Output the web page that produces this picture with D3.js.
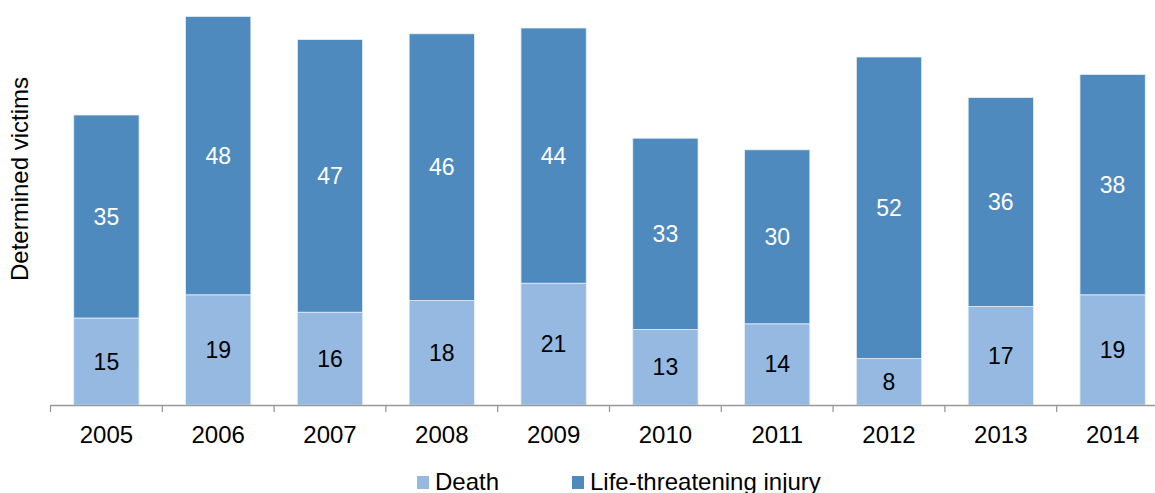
<!DOCTYPE html>
<html lang="en">
<head>
<meta charset="UTF-8">
<title>Determined victims</title>
<style>
  body { margin: 0; background: #fff; }
  svg { display: block; font-family: "Liberation Sans", Arial, sans-serif; }
</style>
</head>
<body>
<div id="chart"></div>
<script src="https://cdn.jsdelivr.net/npm/d3@7/dist/d3.min.js"></script>
<script>
"use strict";

var years = ["2005", "2006", "2007", "2008", "2009", "2010", "2011", "2012", "2013", "2014"];
var deaths = [15, 19, 16, 18, 21, 13, 14, 8, 17, 19];
var injuries = [35, 48, 47, 46, 44, 33, 30, 52, 36, 38];
var seriesNames = ["Death", "Life-threatening injury"];
var seriesColors = ["#95b9e0", "#4f8abe"];
var labelColors = ["#000", "#fff"];

var width = 1155, height = 493;
var baseY = 405;

var svg = d3.select("#chart").append("svg")
    .attr("width", width)
    .attr("height", height);

var x = d3.scaleBand()
    .domain(years)
    .range([50.5, 1168.5])
    .paddingInner(0.416)
    .paddingOuter(0.208);

var y = d3.scaleLinear()
    .domain([0, 70])
    .range([baseY, -1]);

var rows = years.map(function (yr, i) {
    return { year: yr, death: deaths[i], injury: injuries[i] };
});
var stacked = d3.stack().keys(["death", "injury"])(rows);

var layers = svg.selectAll("g.layer")
    .data(stacked)
    .enter().append("g")
    .attr("class", "layer")
    .attr("fill", function (d, i) { return seriesColors[i]; });

layers.selectAll("rect")
    .data(function (d) { return d; })
    .enter().append("rect")
    .attr("x", function (d) { return x(d.data.year); })
    .attr("y", function (d) { return y(d[1]); })
    .attr("width", x.bandwidth())
    .attr("height", function (d) { return y(d[0]) - y(d[1]); })
    .attr("stroke", "#e6eef8")
    .attr("stroke-width", 0.8);

layers.selectAll("text")
    .data(function (d, i) { return d.map(function (p) { return { p: p, i: i }; }); })
    .enter().append("text")
    .attr("x", function (d) { return x(d.p.data.year) + x.bandwidth() / 2; })
    .attr("y", function (d) { return (y(d.p[0]) + y(d.p[1])) / 2; })
    .attr("dy", "0.35em")
    .attr("text-anchor", "middle")
    .attr("font-size", 23)
    .attr("fill", function (d) { return labelColors[d.i]; })
    .text(function (d) { return d.p[1] - d.p[0]; });

// x axis: ticks sit on band boundaries
var axisG = svg.append("g").attr("class", "x-axis");
axisG.append("line")
    .attr("x1", 50.5).attr("x2", width)
    .attr("y1", baseY + 0.5).attr("y2", baseY + 0.5)
    .attr("stroke", "#999").attr("stroke-width", 1.3);

var step = x.step();
var bounds = d3.range(years.length + 1).map(function (i) { return 50.5 + i * step; });
axisG.selectAll("line.tick")
    .data(bounds)
    .enter().append("line")
    .attr("class", "tick")
    .attr("x1", function (d) { return d; })
    .attr("x2", function (d) { return d; })
    .attr("y1", baseY)
    .attr("y2", baseY + 7)
    .attr("stroke", "#999").attr("stroke-width", 1.3);

axisG.selectAll("text")
    .data(years)
    .enter().append("text")
    .attr("x", function (d) { return x(d) + x.bandwidth() / 2; })
    .attr("y", 443)
    .attr("text-anchor", "middle")
    .attr("font-size", 24)
    .attr("fill", "#000")
    .text(function (d) { return d; });

// y title
svg.append("text")
    .attr("transform", "translate(28,179) rotate(-90)")
    .attr("text-anchor", "middle")
    .attr("font-size", 24)
    .attr("fill", "#000")
    .text("Determined victims");

// legend
var legendX = [417, 572];
var legend = svg.selectAll("g.legend")
    .data(seriesNames)
    .enter().append("g")
    .attr("class", "legend")
    .attr("transform", function (d, i) { return "translate(" + legendX[i] + ",0)"; });

legend.append("rect")
    .attr("x", 0).attr("y", 476)
    .attr("width", 12).attr("height", 13)
    .attr("fill", function (d, i) { return seriesColors[i]; });

legend.append("text")
    .attr("x", 18).attr("y", 490)
    .attr("font-size", 24)
    .attr("fill", "#000")
    .text(function (d) { return d; });
</script>
</body>
</html>
